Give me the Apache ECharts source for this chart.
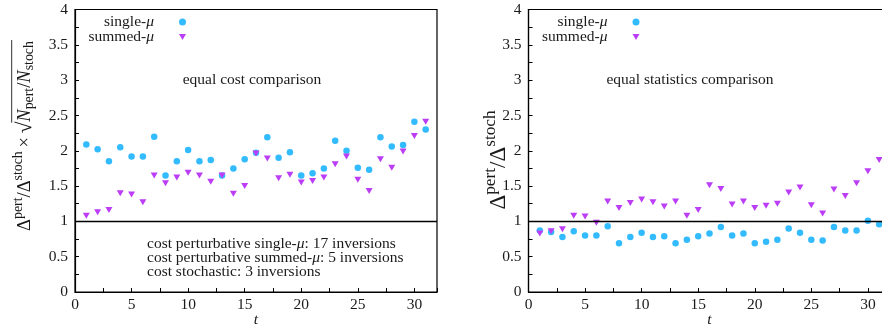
<!DOCTYPE html>
<html>
<head>
<meta charset="utf-8">
<script src="https://cdn.jsdelivr.net/npm/echarts@6/dist/echarts.min.js"></script>
<style>html,body{margin:0;padding:0;background:#fff}#c{width:882px;height:326px}</style>
</head>
<body>
<div id="c"></div>
<script>
// ---- data ----
const tValues = [1,2,3,4,5,6,7,8,9,10,11,12,13,14,15,16,17,18,19,20,21,22,23,24,25,26,27,28,29,30,31];
const costSingle = [2.09,2.02,1.85,2.05,1.92,1.92,2.20,1.65,1.85,2.01,1.85,1.87,1.65,1.75,1.88,1.97,2.19,1.90,1.98,1.65,1.68,1.75,2.14,2.00,1.76,1.73,2.19,2.06,2.08,2.41,2.30];
const costSummed = [1.08,1.13,1.16,1.40,1.38,1.27,1.65,1.54,1.62,1.69,1.65,1.56,1.65,1.39,1.50,1.96,1.89,1.61,1.66,1.55,1.57,1.62,1.81,1.92,1.59,1.43,1.88,1.76,1.99,2.21,2.41];
const statSingle = [0.87,0.85,0.78,0.86,0.80,0.80,0.93,0.69,0.78,0.84,0.78,0.79,0.69,0.74,0.79,0.83,0.92,0.80,0.83,0.69,0.71,0.74,0.90,0.84,0.74,0.73,0.92,0.87,0.87,1.01,0.96];
const statSummed = [0.83,0.86,0.89,1.08,1.07,0.98,1.28,1.19,1.26,1.31,1.27,1.21,1.28,1.08,1.16,1.51,1.46,1.24,1.28,1.19,1.22,1.25,1.41,1.48,1.23,1.11,1.45,1.36,1.54,1.71,1.87];
const seriesNames = ['single-μ', 'summed-μ'];
const panelTitles = ['equal cost comparison', 'equal statistics comparison'];
const costLines = [
  [['cost perturbative single-',0],['μ',1],[': 17 inversions',0]],
  [['cost perturbative summed-',0],['μ',1],[': 5 inversions',0]],
  [['cost stochastic: 3 inversions',0]]
];

// ---- style ----
const FF = 'Liberation Serif';
const TXT = '#1a1a1a';
const C1 = '#33bbff';
const C2 = '#bb3df6';
const FS = 15.5;
const TRI = 'path://M0,0 L10,0 L5,8.5 Z';

const ctx = document.createElement('canvas').getContext('2d');
function fontStr(size, italic){ return (italic ? 'italic ' : '') + size + 'px "' + FF + '"'; }
function measure(t, size, italic){ ctx.font = fontStr(size, italic); return ctx.measureText(t).width; }

function pairs(ys){ return tValues.map((t,i)=>[t, ys[i]]); }

function layoutPieces(pieces, size){
  let x = 0; const items = [];
  pieces.forEach(p=>{
    let fs = size, dy = 0;
    if (p.k === 'sup') { fs = size*0.75; dy = -size*0.36; }
    if (p.k === 'sub') { fs = size*0.75; dy = size*0.24; }
    if (p.big) fs = size*p.big;
    const w = measure(p.t, fs, p.it);
    items.push({x, dy, fs, it:p.it, t:p.t, w, mark:p.mark});
    x += w;
  });
  return {items, width:x};
}
function rotatedLabel(pieces, size, cx, cy, withBar){
  const L = layoutPieces(pieces, size);
  const x0 = -L.width/2;
  const children = L.items.map(it=>({
    type:'text', x: x0+it.x, y: it.dy,
    style:{text: it.t, font: fontStr(it.fs, it.it), fill: TXT, textAlign:'left', textVerticalAlign:'middle'}
  }));
  if (withBar) {
    const start = L.items.find(i=>i.mark==='barStart');
    const xs = x0 + start.x - 1;
    const xe = x0 + L.width;
    children.push({type:'line', shape:{x1: xs, y1: -size*0.72, x2: xe+1, y2: -size*0.72}, style:{stroke: TXT, lineWidth: 0.9}});
  }
  return {type:'group', x: cx, y: cy, rotation: Math.PI/2, children};
}
function textLine(pieces, x, y){
  const children = []; let dx = 0;
  pieces.forEach(([t, it])=>{
    children.push({type:'text', x: dx, y: 0, style:{text:t, font: fontStr(FS, !!it), fill: TXT, textAlign:'left', textVerticalAlign:'middle'}});
    dx += measure(t, FS, !!it);
  });
  return {type:'group', x, y, children};
}

const leftName = [
  {t:'Δ'},{t:'pert',k:'sup'},{t:'/Δ'},{t:'stoch',k:'sup'},{t:'\u2009×\u2009'},{t:'√',big:1.15},
  {t:'N',it:true,mark:'barStart'},{t:'pert',k:'sub'},{t:'/'},{t:'N',it:true},{t:'stoch',k:'sub'}
];
const rightName = [{t:'Δ'},{t:'pert',k:'sup'},{t:'/Δ'},{t:'stoch',k:'sup'}];

function xAxisCfg(g){
  return {
    gridIndex:g, type:'value', min:0, max:32, interval:2.5,
    name:'t', nameLocation:'middle', nameGap:20, nameMoveOverlap:false,
    nameTextStyle:{fontFamily:FF, fontSize:FS, fontStyle:'italic', color:TXT},
    axisLine:{show:true, onZero:false, lineStyle:{color:'#000', width:1.2}},
    axisTick:{show:true, inside:true, length:4, lineStyle:{color:'#000'}},
    axisLabel:{margin:5, color:TXT, fontFamily:FF, fontSize:FS, formatter:v=> (v%5===0 ? String(v) : '')},
    splitLine:{show:false}
  };
}
function yAxisCfg(g){
  return {
    gridIndex:g, type:'value', min:0, max:4, interval:0.25,
    axisLine:{show:true, onZero:false, lineStyle:{color:'#000', width:1.2}},
    axisTick:{show:true, inside:true, length:4, lineStyle:{color:'#000'}},
    axisLabel:{margin:7, color:TXT, fontFamily:FF, fontSize:FS, formatter:v=> (Math.abs(v*2-Math.round(v*2))<1e-9 ? String(v) : '')},
    splitLine:{show:false}
  };
}
const markOne = {silent:true, symbol:'none', label:{show:false}, emphasis:{disabled:true},
  lineStyle:{color:'#000', width:1.3, type:'solid'}, data:[{yAxis:1}]};

function sc(name, g, ys, color, sym, size, mark){
  const s = {name, type:'scatter', xAxisIndex:g, yAxisIndex:g, data:pairs(ys), symbol:sym, symbolSize:size,
    itemStyle:{color, opacity:1}, emphasis:{disabled:true}, z: name===seriesNames[0]?3:4};
  if (mark) s.markLine = markOne;
  return s;
}
function legendCfg(name, right, top){
  return {data:[name], right, top, padding:0, orient:'vertical', align:'right', itemWidth:7, itemHeight:7, selectedMode:false,
    textStyle:{fontFamily:FF, fontSize:FS, color:TXT, padding:[0,20,0,0], rich:{i:{fontFamily:FF, fontSize:FS, fontStyle:'italic', color:TXT}}},
    formatter:n=>n.replace('μ','{i|μ}')};
}

const chart = echarts.init(document.getElementById('c'), null, {renderer:'canvas'});
chart.setOption({
  animation:false,
  backgroundColor:'#fff',
  grid:[
    {left:75, top:9.5, width:362, height:282.5, outerBoundsMode:'none', containLabel:false, show:true, borderColor:'#000', borderWidth:1.2, backgroundColor:'transparent'},
    {left:528.5, top:9.5, width:362, height:282.5, outerBoundsMode:'none', containLabel:false, show:true, borderColor:'#000', borderWidth:1.2, backgroundColor:'transparent'}
  ],
  xAxis:[xAxisCfg(0), xAxisCfg(1)],
  yAxis:[yAxisCfg(0), yAxisCfg(1)],
  legend:[
    legendCfg(seriesNames[0], 882-186, 14),
    legendCfg(seriesNames[1], 882-186, 29),
    legendCfg(seriesNames[0], 882-639.5, 14),
    legendCfg(seriesNames[1], 882-639.5, 29)
  ],
  series:[
    sc(seriesNames[0], 0, costSingle, C1, 'circle', 6.5, true),
    sc(seriesNames[1], 0, costSummed, C2, TRI, [7,6], false),
    sc(seriesNames[0], 1, statSingle, C1, 'circle', 6.5, true),
    sc(seriesNames[1], 1, statSummed, C2, TRI, [7,6], false)
  ],
  graphic:[
    {type:'text', x:252, y:80, style:{text:panelTitles[0], font:fontStr(FS,false), fill:TXT, textAlign:'center', textVerticalAlign:'middle'}},
    {type:'text', x:690, y:80, style:{text:panelTitles[1], font:fontStr(FS,false), fill:TXT, textAlign:'center', textVerticalAlign:'middle'}},
    textLine(costLines[0], 147, 244),
    textLine(costLines[1], 147, 258),
    textLine(costLines[2], 147, 272),
    rotatedLabel(leftName, 18.5, 25, 136, true),
    rotatedLabel(rightName, 23, 499, 160, false)
  ]
});
</script>
</body>
</html>
